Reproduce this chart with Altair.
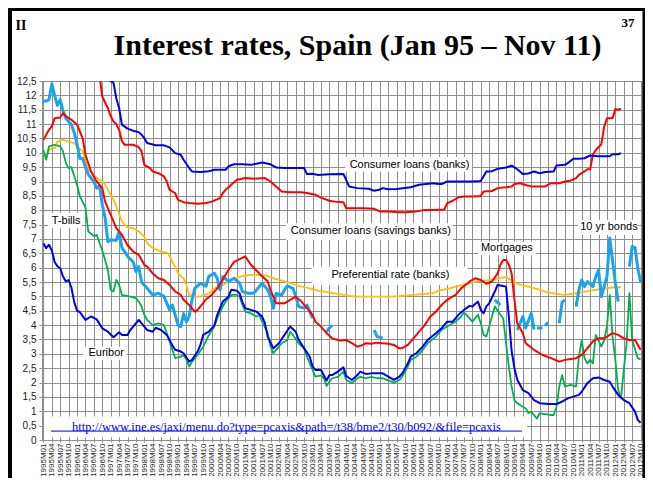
import altair as alt
import pandas as pd

# month index: 0 = 1995M01 ... 213 = 2012M10
START_YEAR = 1995
N_MONTHS = 214

cl_banks_m = [23, 24, 25, 26, 27, 28, 30, 32, 34, 35, 36, 37, 40, 43, 45, 47, 49, 50, 52, 53, 56, 59, 61, 65, 66, 68, 71, 74, 76, 78, 81, 83, 86, 90, 93, 94, 96, 98, 102, 107, 108, 109, 112, 116, 118, 120, 121, 123, 126, 131, 134, 139, 141, 142, 144, 150, 153, 156, 157, 158, 160, 162, 165, 167, 169, 171, 173, 175, 177, 179, 182, 183, 186, 187, 189, 191, 193, 195, 198, 202, 203, 205, 206]
cl_banks_v = [12.6, 12.5, 12.43, 11.9, 11.56, 10.98, 10.84, 10.77, 10.72, 10.63, 10.51, 10.34, 10.26, 10.26, 10.19, 9.99, 9.93, 9.76, 9.47, 9.35, 9.33, 9.36, 9.41, 9.41, 9.53, 9.6, 9.6, 9.58, 9.62, 9.66, 9.6, 9.49, 9.47, 9.47, 9.47, 9.26, 9.27, 9.23, 9.25, 9.26, 9.06, 8.83, 8.77, 8.75, 8.68, 8.72, 8.77, 8.73, 8.74, 8.8, 8.89, 8.94, 8.91, 8.91, 9.0, 9.0, 9.0, 9.02, 9.18, 9.35, 9.36, 9.44, 9.49, 9.55, 9.43, 9.26, 9.28, 9.35, 9.29, 9.33, 9.35, 9.56, 9.58, 9.64, 9.79, 9.79, 9.81, 9.91, 9.88, 9.88, 9.95, 9.95, 9.99]

cl_savings_m = [20, 21, 22, 23, 24, 25, 26, 27, 28, 29, 32, 34, 35, 36, 38, 39, 41, 43, 44, 45, 47, 48, 50, 52, 55, 58, 60, 63, 64, 65, 67, 69, 72, 75, 79, 81, 83, 85, 88, 92, 94, 97, 99, 102, 104, 107, 108, 111, 114, 118, 120, 123, 127, 129, 133, 136, 139, 143, 144, 146, 148, 150, 153, 156, 157, 160, 162, 165, 167, 168, 170, 172, 174, 179, 181, 184, 186, 188, 190, 191, 193, 194, 195, 196, 197, 199, 200, 201, 203, 204, 205, 206]
cl_savings_v = [12.7, 11.96, 11.75, 11.56, 11.27, 11.09, 11.0, 10.8, 10.4, 10.28, 10.28, 10.2, 10.05, 9.58, 9.47, 9.35, 9.29, 9.18, 9.0, 8.71, 8.6, 8.36, 8.28, 8.25, 8.23, 8.25, 8.3, 8.42, 8.6, 8.71, 8.89, 9.06, 9.12, 9.1, 9.12, 9.0, 8.83, 8.65, 8.63, 8.63, 8.6, 8.54, 8.44, 8.33, 8.3, 8.28, 8.07, 8.07, 8.07, 8.05, 7.96, 7.96, 7.93, 7.93, 7.96, 8.01, 8.01, 8.03, 8.25, 8.33, 8.45, 8.48, 8.48, 8.5, 8.65, 8.67, 8.77, 8.8, 8.83, 8.91, 8.94, 8.88, 8.83, 8.83, 8.94, 8.94, 9.0, 9.03, 9.12, 9.23, 9.35, 9.43, 9.43, 9.93, 10.1, 10.3, 10.9, 11.2, 11.2, 11.53, 11.5, 11.53]

mortgages_m = [0, 2, 3, 4, 6, 7, 8, 10, 12, 14, 15, 17, 19, 21, 22, 24, 26, 28, 30, 32, 34, 36, 37, 39, 41, 43, 45, 47, 49, 50, 52, 54, 55, 58, 60, 62, 64, 66, 68, 70, 72, 74, 77, 80, 81, 83, 86, 88, 90, 92, 94, 96, 97, 99, 101, 103, 105, 106, 108, 110, 112, 114, 115, 117, 119, 121, 123, 125, 127, 128, 130, 132, 134, 136, 138, 140, 142, 144, 147, 149, 152, 154, 156, 158, 160, 162, 163, 164, 165, 166, 167, 168, 169, 171, 172, 175, 178, 181, 184, 186, 190, 192, 194, 196, 198, 200, 202, 203, 205, 207, 209, 211, 213]
mortgages_v = [10.45, 10.8, 10.92, 11.2, 11.23, 11.38, 11.28, 11.15, 10.98, 10.5, 9.93, 9.35, 9.0, 8.77, 8.3, 7.84, 7.38, 7.14, 6.79, 6.56, 6.45, 6.1, 6.04, 5.8, 5.63, 5.57, 5.4, 5.17, 5.05, 4.88, 4.7, 4.47, 4.53, 4.9, 5.05, 5.28, 5.6, 5.92, 6.2, 6.3, 6.39, 6.1, 5.8, 5.52, 5.23, 4.76, 4.76, 4.88, 4.99, 4.82, 4.59, 4.36, 4.12, 3.95, 3.72, 3.54, 3.48, 3.46, 3.48, 3.37, 3.25, 3.31, 3.37, 3.35, 3.39, 3.37, 3.35, 3.31, 3.19, 3.2, 3.31, 3.54, 3.77, 4.0, 4.3, 4.47, 4.7, 4.88, 5.05, 5.28, 5.52, 5.63, 5.57, 5.44, 5.52, 5.8, 6.1, 6.27, 6.27, 6.1, 5.8, 4.88, 4.07, 3.72, 3.37, 3.14, 2.96, 2.85, 2.73, 2.79, 2.85, 2.96, 3.19, 3.43, 3.54, 3.54, 3.66, 3.72, 3.66, 3.54, 3.48, 3.48, 3.14]

preferential_m = [0, 1, 2, 3, 4, 5, 7, 9, 11, 12, 14, 15, 16, 18, 19, 21, 22, 23, 25, 26, 28, 30, 32, 34, 36, 37, 39, 41, 43, 44, 45, 46, 47, 48, 50, 51, 52, 54, 56, 59, 61, 64, 67, 71, 74, 77, 80, 82, 85, 88, 91, 95, 98, 102, 105, 109, 112, 118, 124, 129, 134, 139, 141, 145, 148, 152, 155, 159, 162, 165, 167, 170, 173, 177, 180, 183, 186, 190, 193, 197, 200, 203, 206]
preferential_v = [9.99, 9.93, 10.1, 10.16, 10.16, 10.39, 10.45, 10.39, 10.34, 10.22, 10.05, 9.76, 9.41, 9.23, 9.12, 9.0, 8.89, 8.71, 8.36, 8.13, 7.61, 7.4, 7.38, 7.26, 7.08, 6.85, 6.68, 6.6, 6.53, 6.53, 6.4, 6.2, 6.04, 5.8, 5.63, 5.4, 5.05, 4.99, 4.99, 5.11, 5.28, 5.4, 5.57, 5.71, 5.75, 5.75, 5.71, 5.63, 5.55, 5.46, 5.37, 5.28, 5.2, 5.13, 5.09, 5.02, 4.99, 4.99, 4.99, 5.03, 5.07, 5.11, 5.2, 5.28, 5.37, 5.46, 5.52, 5.57, 5.63, 5.67, 5.55, 5.4, 5.34, 5.23, 5.13, 5.09, 5.05, 5.11, 5.17, 5.23, 5.28, 5.31, 5.32]

# None marks a gap in the 10 yr bond series
bonds_m = [0, 1, 2, 3, 4, 5, 6, 7, 8, 10, 11, 12, 13, 14, 15, 16, 18, 19, 20, 21, 22, 23, 24, 26, 27, 28, 30, 32, 33, 34, 35, 37, 39, 41, 43, 45, 46, 48, 49, 50, 51, 52, 53, 54, 56, 58, 59, 61, 62, 63, 64, 66, 68, 70, 71, 73, 75, 78, 80, 81, 82, 83, 85, 86, 87, 89, 90, 91, 93, 94, 95, 96, 97, 101, 102, 103, 104, 118, 119, 121, 122, 161, 163, 164, 169, 171, 172, 174, 175, 175.5, 176, 178, 178.5, 179, 180, 181, 184, 185, 186, 187, 190, 191, 192, 193, 194, 196, 197, 198, 199, 200, 201, 202, 204, 205, 206, 209, 210, 211, 212, 213]
bonds_v = [11.8, 11.8, 11.85, 12.4, 12.0, 11.65, 11.85, 11.45, 11.2, 10.98, 10.7, 10.3, 9.8, 9.8, 9.5, 9.25, 9.0, 8.77, 8.85, 8.2, 7.75, 6.9, 6.97, 6.95, 7.25, 6.7, 6.4, 6.2, 5.86, 6.04, 5.5, 5.28, 5.05, 5.11, 5.0, 4.53, 4.7, 4.0, 3.95, 4.4, 4.12, 4.3, 4.88, 5.28, 5.46, 5.36, 5.7, 5.8, 5.63, 5.23, 5.69, 5.52, 5.63, 5.46, 5.17, 5.11, 5.11, 5.46, 5.23, 5.0, 4.59, 5.1, 5.05, 5.23, 5.37, 5.28, 5.0, 4.65, 4.59, 4.7, 4.47, 4.24, None, 3.77, 3.9, 4.0, None, 3.83, 3.6, 3.55, None, 4.88, 4.7, None, 3.83, 4.3, 3.9, 4.41, 3.85, None, 3.9, 3.9, None, 3.98, 4.1, None, 4.07, 4.8, 4.88, None, 4.65, 5.23, 5.57, 5.34, 5.52, 5.34, 5.69, 5.92, 4.99, 5.34, 5.69, 7.03, 5.46, 4.82, None, 6.04, 6.74, 6.7, 5.98, 5.5]

tbills_m = [0, 1, 2, 4, 6, 7, 8, 9, 10, 12, 13, 15, 16, 18, 19, 21, 22, 23, 24, 25, 26, 27, 28, 31, 33, 34, 35, 36, 37, 39, 41, 43, 44, 45, 46, 47, 49, 50, 51, 52, 53, 55, 57, 59, 61, 62, 64, 65, 67, 69, 70, 71, 72, 74, 76, 77, 78, 80, 81, 82, 83, 85, 87, 88, 89, 91, 93, 94, 96, 97, 99, 100, 101, 102, 103, 105, 107, 108, 110, 112, 113, 115, 117, 119, 121, 122, 125, 127, 128, 130, 131, 133, 135, 137, 140, 142, 144, 147, 149, 150, 152, 153, 155, 156, 157, 158, 159, 160, 161, 163, 164, 165, 166, 167, 168, 169, 171, 172, 173, 174, 176, 177, 179, 181, 182, 183, 184, 185, 186, 188, 190, 191, 192, 193, 194, 195, 196, 197, 199, 200, 201, 202, 203, 204, 205, 206, 207, 208, 209, 210, 212, 213]
tbills_v = [10.1, 9.76, 10.22, 10.28, 10.22, 10.05, 9.64, 9.47, 9.5, 8.89, 8.48, 8.1, 7.26, 7.1, 7.14, 6.6, 6.27, 5.92, 5.23, 5.17, 5.57, 5.4, 5.05, 4.99, 4.94, 4.82, 4.65, 4.36, 4.18, 4.0, 4.06, 4.0, 3.72, 3.43, 3.14, 2.85, 2.9, 2.96, 2.79, 2.56, 2.73, 2.96, 3.25, 3.65, 3.95, 4.24, 4.65, 4.82, 5.05, 5.05, 4.99, 4.7, 4.47, 4.41, 4.3, 4.35, 4.12, 3.72, 3.25, 3.02, 3.14, 3.37, 3.48, 3.77, 3.66, 3.37, 3.19, 2.9, 2.44, 2.21, 2.25, 2.15, 1.88, 2.03, 2.15, 2.2, 2.38, 2.09, 1.98, 2.15, 2.2, 2.15, 2.2, 2.15, 2.15, 2.11, 2.0, 2.09, 2.21, 2.56, 2.79, 2.9, 3.1, 3.37, 3.6, 3.83, 3.95, 4.12, 4.3, 4.44, 4.24, 4.12, 4.36, 4.07, 3.66, 3.6, 3.95, 4.3, 4.65, 4.36, 4.24, 3.37, 2.56, 1.86, 1.39, 1.28, 1.16, 1.1, 0.93, 0.99, 0.75, 0.93, 0.9, 0.87, 0.87, 1.16, 1.86, 2.26, 1.86, 1.92, 1.86, 2.9, 3.48, 2.85, 2.67, 2.79, 2.67, 3.66, 3.25, 3.48, 3.95, 5.05, 3.6, 2.79, 1.74, 1.45, 2.44, 3.37, 5.11, 3.48, 2.85, 2.81]

euribor_m = [0, 1, 2, 3, 4, 5, 6, 7, 8, 9, 10, 11, 12, 13, 15, 17, 19, 21, 23, 25, 27, 28, 30, 31, 32, 34, 36, 37, 39, 40, 42, 44, 46, 47, 49, 50, 52, 53, 55, 56, 57, 59, 61, 62, 64, 66, 67, 69, 70, 71, 72, 74, 76, 78, 79, 80, 82, 84, 86, 88, 90, 91, 93, 95, 96, 97, 99, 101, 102, 103, 105, 107, 108, 110, 112, 113, 115, 117, 119, 121, 123, 125, 127, 128, 130, 131, 133, 135, 137, 140, 142, 144, 146, 148, 150, 152, 153, 155, 156, 157, 158, 159, 161, 162, 164, 165, 166, 167, 168, 169, 171, 173, 175, 177, 180, 183, 185, 187, 189, 191, 192, 194, 196, 198, 200, 202, 203, 205, 207, 209, 211, 212, 213]
euribor_v = [6.85, 6.68, 6.8, 6.6, 6.2, 6.05, 5.98, 5.69, 5.52, 5.57, 5.3, 4.8, 4.5, 4.45, 4.18, 4.3, 4.2, 3.89, 3.77, 3.58, 3.75, 3.66, 3.66, 3.83, 3.95, 4.18, 3.95, 3.83, 3.77, 3.91, 3.83, 3.66, 3.3, 3.14, 3.08, 3.02, 2.73, 2.79, 3.08, 3.31, 3.66, 3.77, 4.0, 4.36, 4.82, 4.99, 5.23, 5.2, 5.1, 4.8, 4.59, 4.53, 4.47, 4.3, 4.07, 3.6, 3.19, 3.37, 3.66, 3.95, 3.77, 3.5, 3.19, 2.9, 2.56, 2.44, 2.44, 2.07, 2.26, 2.26, 2.38, 2.53, 2.23, 2.09, 2.26, 2.38, 2.3, 2.32, 2.32, 2.32, 2.21, 2.09, 2.21, 2.32, 2.67, 2.9, 3.02, 3.22, 3.48, 3.72, 3.89, 4.12, 4.12, 4.36, 4.53, 4.67, 4.65, 4.82, 4.53, 4.41, 4.65, 4.76, 5.17, 5.4, 5.36, 5.34, 4.3, 3.1, 2.5, 2.1, 1.74, 1.63, 1.39, 1.28, 1.25, 1.25, 1.34, 1.45, 1.51, 1.57, 1.68, 1.98, 2.15, 2.18, 2.09, 2.03, 1.86, 1.57, 1.39, 1.28, 0.99, 0.7, 0.6]

series_names = ["Preferential rate (banks)", "10 yr bonds", "T-bills", "Mortgages",
                "Consumer loans (savings banks)", "Euribor", "Consumer loans (banks)"]
series_data = [(preferential_m, preferential_v), (bonds_m, bonds_v), (tbills_m, tbills_v),
               (mortgages_m, mortgages_v), (cl_savings_m, cl_savings_v),
               (euribor_m, euribor_v), (cl_banks_m, cl_banks_v)]
series_colors = ["#FFC000", "#1AA3EE", "#00B050", "#FF0000", "#FF0000", "#0000F0", "#0000F0"]
series_widths = [1.8, 3.0, 1.8, 2.0, 2.0, 2.0, 2.0]

# in-chart labels
note_text = ["Consumer loans (banks)", "Consumer loans (savings banks)", "Preferential rate (banks)",
             "Mortgages", "10 yr bonds", "T-bills", "Euribor"]
note_m = [130.6, 116.8, 123.8, 165.3, 201.7, 8.1, 22.4]
note_v = [9.59, 7.26, 5.75, 6.67, 7.41, 7.64, 3.02]
note_m0 = [107.6, 86.5, 95.7, 155.0, 190.7, 1.7, 14.2]
note_m1 = [152.9, 146.1, 151.4, 175.6, 212.0, 13.7, 29.7]
note_v0 = [9.35, 6.96, 5.40, 6.43, 7.14, 7.38, 2.79]
note_v1 = [9.86, 7.55, 6.03, 6.90, 7.66, 7.90, 3.25]

url_text = "http://www.ine.es/jaxi/menu.do?type=pcaxis&path=/t38/bme2/t30/b092/&file=pcaxis"

# ---------------- build tables ----------------
rows = []
for name, (ms, vs) in zip(series_names, series_data):
    seg = 0
    for m, v in zip(ms, vs):
        if v is None:
            seg += 1
            continue
        rows.append({"series": name, "seg": seg, "m": m, "v": v})
df = pd.DataFrame(rows)

notes = pd.DataFrame({"label": note_text, "m": note_m, "v": note_v,
                      "m0": note_m0, "m1": note_m1, "v0": note_v0, "v1": note_v1})
url_df = pd.DataFrame({"label": [url_text], "m": [86.7], "v": [0.47],
                       "m0": [0.3], "m1": [172.5], "v0": [0.1], "v1": [0.82],
                       "u0": [2.7], "u1": [170.7], "uv": [0.31]})

month_label = ("toString(%d + floor(datum.value / 12)) + 'M' + "
               "(datum.value %% 12 < 9 ? '0' : '') + toString(datum.value %% 12 + 1)" % START_YEAR)

xscale = alt.Scale(domain=[-0.5, N_MONTHS - 0.5], nice=False, zero=False)
yscale = alt.Scale(domain=[0, 12.5], nice=False)
grid_col = "#8f8f8f"
xaxis = alt.Axis(values=list(range(0, N_MONTHS, 3)), labelExpr=month_label, labelAngle=270,
                 labelFontSize=8, labelFont="Liberation Sans", labelColor="#222222",
                 labelOverlap=False, labelPadding=1, grid=True, gridColor=grid_col, gridWidth=1,
                 tickColor=grid_col, tickSize=2, domainColor=grid_col, title=None)
yaxis = alt.Axis(values=[i * 0.5 for i in range(26)],
                 labelExpr="replace(toString(datum.value), '.', ',')",
                 labelFontSize=10, labelFont="Liberation Sans", labelColor="#222222",
                 labelOverlap=False, labelPadding=3, grid=True, gridColor=grid_col, gridWidth=1,
                 tickColor=grid_col, tickSize=3, domainColor=grid_col, title=None)

X = alt.X("m:Q", scale=xscale, axis=xaxis)
Y = alt.Y("v:Q", scale=yscale, axis=yaxis)

layers = []

# white label boxes (cover the grid)
boxes = alt.Chart(notes).mark_rect(color="white").encode(
    x=alt.X("m0:Q", scale=xscale, axis=xaxis), x2="m1:Q",
    y=alt.Y("v0:Q", scale=yscale, axis=yaxis), y2="v1:Q")
url_box = alt.Chart(url_df).mark_rect(color="white").encode(
    x=alt.X("m0:Q", scale=xscale, axis=xaxis), x2="m1:Q",
    y=alt.Y("v0:Q", scale=yscale, axis=yaxis), y2="v1:Q")
layers += [boxes, url_box]

for name, col, w in zip(series_names, series_colors, series_widths):
    sub = df[df.series == name]
    layers.append(alt.Chart(sub).mark_line(color=col, strokeWidth=w, clip=True,
                                           strokeJoin="round").encode(
        x=X, y=Y, detail="seg:N"))

note_txt = alt.Chart(notes).mark_text(font="Liberation Sans", fontSize=11, color="black",
                                      baseline="middle", align="center").encode(
    x=X, y=Y, text="label:N")
url_txt = alt.Chart(url_df).mark_text(font="Liberation Serif", fontSize=12.5, color="#0000EE",
                                      baseline="middle", align="center").encode(
    x=X, y=Y, text="label:N")
url_line = alt.Chart(url_df).mark_rule(color="#0000EE", strokeWidth=1).encode(
    x=alt.X("u0:Q", scale=xscale, axis=xaxis), x2="u1:Q",
    y=alt.Y("uv:Q", scale=yscale, axis=yaxis))
layers += [note_txt, url_txt, url_line]

one = alt.Data(values=[{"k": 1}])
title = alt.Chart(one).mark_text(text="Interest rates, Spain (Jan 95 \u2013 Nov 11)",
                                 font="Liberation Serif", fontSize=30, fontWeight="bold",
                                 color="black", align="center", baseline="alphabetic").encode(
    x=alt.value(315.5), y=alt.value(-26))
sec = alt.Chart(one).mark_text(text="II", font="Liberation Serif", fontSize=14,
                               fontWeight="bold", color="black", align="center",
                               baseline="alphabetic").encode(x=alt.value(-21), y=alt.value(-51))
page = alt.Chart(one).mark_text(text="37", font="Liberation Serif", fontSize=13,
                                fontWeight="bold", color="black", align="center",
                                baseline="alphabetic").encode(x=alt.value(586), y=alt.value(-54))
frame_l = alt.Chart(one).mark_rule(color="black", strokeWidth=4).encode(
    x=alt.value(-32), y=alt.value(-73), y2=alt.value(397))
frame_t = alt.Chart(one).mark_rule(color="black", strokeWidth=3).encode(
    x=alt.value(-34), x2=alt.value(603), y=alt.value(-71.5))
frame_r = alt.Chart(one).mark_rule(color="black", strokeWidth=3).encode(
    x=alt.value(602), y=alt.value(-73), y2=alt.value(397))
layers += [title, sec, page, frame_l, frame_t, frame_r]

chart = alt.layer(*layers).properties(
    width=600, height=359,
    autosize=alt.AutoSizeParams(type="none"),
    padding={"left": 34, "top": 73, "right": 3, "bottom": 38},
    background="white",
).configure_view(stroke=grid_col, strokeWidth=1)

chart.save("out.html", embed_options={"renderer": "svg", "actions": False})
